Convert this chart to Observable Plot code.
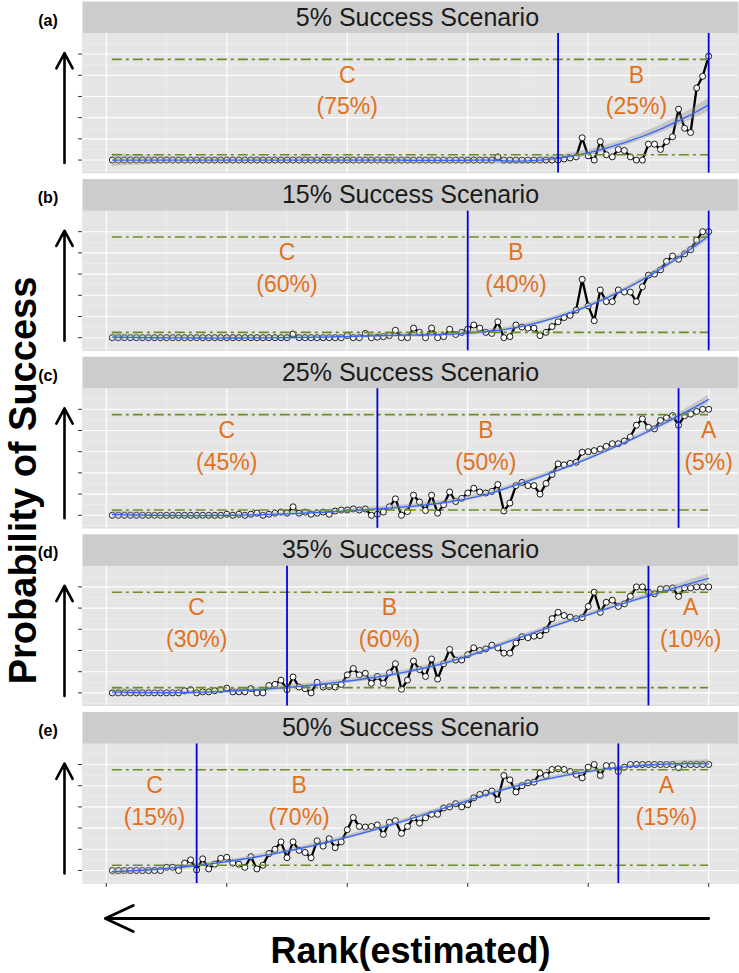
<!DOCTYPE html>
<html>
<head>
<meta charset="utf-8">
<script src="https://cdn.jsdelivr.net/npm/d3@7"></script>
<script src="https://cdn.jsdelivr.net/npm/@observablehq/plot@0.6"></script>
<style>
html, body { margin: 0; padding: 0; background: #ffffff; }
#chart svg { display: block; }
</style>
</head>
<body>
<div id="chart"></div>
<script>
// ---------------- data ----------------
const scenarios = ["\u20075% Success Scenario", "15% Success Scenario", "25% Success Scenario", "35% Success Scenario", "50% Success Scenario"];
const tags = ["(a)", "(b)", "(c)", "(d)", "(e)"];
const ranks = d3.range(1, 101);

const prob05 = [
  0,0,0,0,0,0,0,0,0,0,
  0,0,0,0,0,0,0,0,0,0,
  0,0,0,0,0,0,0,0,0,0,
  0,0,0,0,0,0,0,0,0,0,
  0,0,0,0,0,0,0,0,0,0,
  0,0,0,0,0,0,0,0,0,0,
  0,0,0,0,0.03,0,0,0,0,0,
  0,0,0,0,0,0.01,0.02,0.03,0.21,0.04,
  0,0.175,0.05,0.03,0.10,0.09,0.03,0,0,0.15,
  0.15,0.10,0.175,0.22,0.48,0.30,0.26,0.68,0.79,0.98
];
const prob15 = [
  0,0,0,0,0,0,0,0,0,0,
  0,0,0,0,0,0,0,0,0,0,
  0,0,0,0,0,0,0,0,0,0,
  0.035,0,0,0,0,0,0,0,0,0.02,
  0,0,0.04,0,0.005,0.01,0.02,0.07,0,0,
  0.09,0.05,0,0.09,0,0.01,0.08,0.03,0.05,0.08,
  0.12,0.09,0.05,0.04,0.15,0,0.01,0.12,0.10,0.09,
  0.09,0.02,0.05,0.105,0.15,0.19,0.21,0.26,0.55,0.30,
  0.16,0.45,0.34,0.34,0.45,0.43,0.43,0.34,0.48,0.59,
  0.60,0.64,0.72,0.77,0.74,0.79,0.83,0.92,1.0,1.0
];
const prob25 = [
  0,0,0,0,0,0,0,0,0,0,
  0,0,0,0,0,0,0,0,0,0.01,
  0,0.01,0,0.01,0.02,0,0.01,0.02,0.03,0.02,
  0.08,0.02,0.03,0.01,0.02,0.03,0.01,0.04,0.05,0.05,
  0.06,0.05,0.06,0,0.01,0.03,0.08,0.155,0,0.035,
  0.19,0.125,0.045,0.19,0.02,0.10,0.22,0.13,0.16,0.21,
  0.255,0.22,0.21,0.225,0.29,0.04,0.115,0.28,0.31,0.28,
  0.28,0.20,0.30,0.385,0.485,0.475,0.49,0.50,0.595,0.60,
  0.61,0.625,0.65,0.675,0.675,0.70,0.74,0.85,0.91,0.83,
  0.815,0.895,0.92,0.94,0.85,0.94,0.955,0.98,1.0,1.0
];
const prob35 = [
  0,0,0,0,0,0,0,0,0,0,
  0,0,0.02,0.03,0,0.01,0.01,0.02,0.03,0.045,
  0.01,0.01,0.01,0.04,0,0,0.07,0.08,0.12,0.03,
  0.15,0.055,0.04,0,0.10,0.055,0.06,0.055,0.08,0.17,
  0.23,0.17,0.185,0.09,0.155,0.09,0.19,0.275,0.035,0.12,
  0.30,0.22,0.155,0.32,0.13,0.275,0.41,0.31,0.31,0.36,
  0.425,0.40,0.415,0.45,0.425,0.375,0.375,0.47,0.53,0.52,
  0.535,0.54,0.595,0.70,0.76,0.73,0.715,0.70,0.71,0.815,
  0.95,0.76,0.855,0.875,0.815,0.84,0.91,1.0,1.0,0.95,
  0.935,0.98,0.985,0.99,0.91,0.99,0.99,1.0,1.0,1.0
];
const prob50 = [
  0,0,0,0,0,0,0,0,0,0.03,
  0.03,0,0.07,0.10,0.005,0.11,0.015,0.06,0.115,0.125,
  0.07,0.06,0.03,0.13,0.015,0.05,0.16,0.20,0.27,0.12,
  0.27,0.19,0.17,0.12,0.28,0.23,0.30,0.215,0.27,0.385,
  0.50,0.415,0.41,0.415,0.43,0.34,0.455,0.47,0.35,0.415,
  0.497,0.447,0.497,0.53,0.53,0.59,0.60,0.63,0.60,0.62,
  0.685,0.717,0.73,0.75,0.667,0.896,0.855,0.74,0.80,0.827,
  0.833,0.918,0.896,0.953,0.96,0.953,0.934,0.906,0.874,0.975,
  1.0,0.896,0.99,0.99,0.934,0.975,1.0,1.0,1.0,1.0,
  1.0,1.0,1.0,1.0,0.97,1.0,1.0,1.0,1.0,1.0
];
const series = [prob05, prob15, prob25, prob35, prob50];

// zone boundaries (vertical lines) per scenario
const boundaries = [[75, 100], [60, 100], [45, 95], [30, 90], [15, 85]];
// zone annotations per scenario: letter, share, rank position
const zoneLetters = [["C", "B"], ["C", "B"], ["C", "B", "A"], ["C", "B", "A"], ["C", "B", "A"]];
const zoneShares = [["(75%)", "(25%)"], ["(60%)", "(40%)"], ["(45%)", "(50%)", "(5%)"], ["(30%)", "(60%)", "(10%)"], ["(15%)", "(70%)", "(15%)"]];
const zoneRank = [[40, 88], [30, 68], [20, 63, 100], [15, 47, 97], [8, 32, 93]];
const letterLevel = 0.8, shareLevel = 0.5;

const thresholds = [0.05, 0.95];
const xMajor = [0, 20, 40, 60, 80, 100];
const xMinor = [10, 30, 50, 70, 90];
const yMajor = [0, 0.2, 0.4, 0.6, 0.8, 1];
const yMinor = [-0.1, 0.1, 0.3, 0.5, 0.7, 0.9, 1.1];
const yTitle = "Probability of Success";
const xTitle = "Rank(estimated)";

// ---------------- loess smoother (degree 2, span 0.75, with 95% band) ----------------
function invert3(m) {
  const [a, b, c] = m[0], [d, e, f] = m[1], [g, h, i] = m[2];
  const A = e * i - f * h, B = -(d * i - f * g), C = d * h - e * g;
  const det = a * A + b * B + c * C;
  return [
    [A / det, -(b * i - c * h) / det, (b * f - c * e) / det],
    [B / det, (a * i - c * g) / det, -(a * f - c * d) / det],
    [C / det, -(a * h - b * g) / det, (a * e - b * d) / det]
  ];
}
function loessWeights(xs, x0, span) {
  const n = xs.length, q = Math.floor(n * span);
  const d = xs.map(x => Math.abs(x - x0));
  const h = d.slice().sort((u, v) => u - v)[q - 1];
  const w = d.map(v => (v < h ? (1 - (v / h) ** 3) ** 3 : 0));
  const s = [[0, 0, 0], [0, 0, 0], [0, 0, 0]];
  xs.forEach((x, k) => {
    const t = (x - x0) / h, v = [1, t, t * t];
    for (let a = 0; a < 3; a++) for (let b = 0; b < 3; b++) s[a][b] += w[k] * v[a] * v[b];
  });
  const inv = invert3(s);
  return xs.map((x, k) => {
    const t = (x - x0) / h;
    return w[k] * (inv[0][0] + inv[0][1] * t + inv[0][2] * t * t);
  });
}
function loessBand(xs, ys, grid, span = 0.75) {
  const n = xs.length;
  const L = xs.map(x0 => loessWeights(xs, x0, span));
  const fitted = L.map(l => d3.sum(l, (li, k) => li * ys[k]));
  const trL = d3.sum(L, (l, k) => l[k]);
  const sumL2 = d3.sum(L, l => d3.sum(l, li => li * li));
  const delta1 = n - 2 * trL + sumL2;
  const rss = d3.sum(ys, (y, k) => (y - fitted[k]) ** 2);
  const sigma = Math.sqrt(rss / delta1);
  return grid.map(x0 => {
    const l = loessWeights(xs, x0, span);
    const fit = d3.sum(l, (li, k) => li * ys[k]);
    const se = sigma * Math.sqrt(d3.sum(l, li => li * li));
    return {x: x0, fit, lo: fit - 1.985 * se, hi: fit + 1.985 * se};
  });
}

// ---------------- tables ----------------
const points = scenarios.flatMap((s, k) => series[k].map((p, i) => ({scenario: s, rank: ranks[i], p})));
const rankExtent = d3.extent(ranks);
const grid = d3.range(80).map(j => rankExtent[0] + j * (rankExtent[1] - rankExtent[0]) / 79);
const smooth = scenarios.flatMap((s, k) => loessBand(ranks, series[k], grid).map(d => ({scenario: s, ...d})));
const vlines = scenarios.flatMap((s, k) => boundaries[k].map(x => ({scenario: s, x})));
const zones = scenarios.flatMap((s, k) => zoneLetters[k].map((letter, j) => ({scenario: s, x: zoneRank[k][j], letter, share: zoneShares[k][j]})));
const tagRows = scenarios.map((s, k) => ({scenario: s, tag: tags[k]}));

// ---------------- layout ----------------
const W = 739, H = 973;
const mL = 82, mR = 1, mT = 1, mB = 90;
const pad = 0.034;
const nF = scenarios.length;
const step = (H - mT - mB) / (nF - pad);
const bw = step * (1 - pad);
const pxPerUnit = 106, zeroLift = 13, stripH = 32;
const yLo = -zeroLift / pxPerUnit;
const yTop = yLo + bw / pxPerUnit;
const panelTop = yTop - stripH / pxPerUnit;
const xExpand = 0.05 * (rankExtent[1] - rankExtent[0]);
const xDomain = [rankExtent[0] - xExpand, rankExtent[1] + xExpand];

const font = "'Liberation Sans', Arial, Helvetica, sans-serif";
const orange = "#E2711D";
const green = "#6B8E23";
const vblue = "#0000E0";

const chart = Plot.plot({
  width: W,
  height: H,
  marginTop: mT,
  marginRight: mR,
  marginBottom: mB,
  marginLeft: mL,
  style: {fontFamily: font, background: "#ffffff", overflow: "visible"},
  x: {domain: xDomain, axis: null},
  y: {domain: [yLo, yTop], axis: null},
  fy: {domain: scenarios, axis: null, paddingInner: pad, paddingOuter: 0, round: false},
  marks: [
    // strip + panel background
    Plot.frame({fill: "#cccccc", stroke: "none"}),
    Plot.rect([0], {x1: xDomain[0], x2: xDomain[1], y1: yLo, y2: panelTop, fill: "#e5e5e5"}),
    // grid
    Plot.ruleY(yMinor, {stroke: "#f2f2f2", strokeWidth: 0.6}),
    Plot.ruleX(xMinor, {y1: yLo, y2: panelTop, stroke: "#f2f2f2", strokeWidth: 0.6}),
    Plot.ruleY(yMajor, {stroke: "#ffffff", strokeWidth: 1.1}),
    Plot.ruleX(xMajor, {y1: yLo, y2: panelTop, stroke: "#ffffff", strokeWidth: 1.1}),
    // observed series
    Plot.line(points, {x: "rank", y: "p", fy: "scenario", stroke: "#000000", strokeWidth: 2.3}),
    Plot.dot(points, {x: "rank", y: "p", fy: "scenario", r: 3, fill: "#ffffff", stroke: "#000000", strokeWidth: 0.9}),
    // loess smooth
    Plot.areaY(smooth, {x: "x", y1: "lo", y2: "hi", fy: "scenario", fill: "#999999", fillOpacity: 0.4}),
    Plot.line(smooth, {x: "x", y: "fit", fy: "scenario", stroke: "#3366FF", strokeWidth: 1.3}),
    // thresholds and zone boundaries
    Plot.ruleY(thresholds, {x1: rankExtent[0], x2: rankExtent[1], stroke: green, strokeWidth: 1.6, strokeDasharray: "10,4,3,4"}),
    Plot.ruleX(vlines, {x: "x", fy: "scenario", y1: yLo, y2: panelTop, stroke: vblue, strokeWidth: 1.8}),
    // zone annotations
    Plot.text(zones, {x: "x", y: letterLevel, fy: "scenario", text: "letter", fill: orange, fontSize: 23, lineAnchor: "middle"}),
    Plot.text(zones, {x: "x", y: shareLevel, fy: "scenario", text: "share", fill: orange, fontSize: 23, lineAnchor: "middle"}),
    // strip labels
    Plot.text(scenarios, {fy: d => d, text: d => d, frameAnchor: "top", dy: 16, fontSize: 25, fill: "#1a1a1a", lineAnchor: "middle", textAnchor: "middle"}),
    Plot.text(tagRows, {fy: "scenario", text: "tag", frameAnchor: "top-left", dx: -34.5, dy: 19, fontSize: 16, fontWeight: "bold", fill: "#000000", textAnchor: "middle", lineAnchor: "middle"}),
    // axes (ticks only)
    Plot.axisY(yMajor, {anchor: "left", tickSize: 4, tickFormat: () => "", label: null, stroke: "#333333"}),
    Plot.axisX(xMajor, {anchor: "bottom", tickSize: 4, tickFormat: () => "", label: null, stroke: "#333333"}),
    // up arrow beside each panel
    Plot.arrow([0], {x1: xDomain[0], x2: xDomain[0], y1: yMajor[0], y2: yMajor[yMajor.length - 1], dx: -18, insetStart: -3, insetEnd: -1, headLength: 10, headAngle: 56, stroke: "#000000", strokeWidth: 2.6}),
    // rank arrow and titles
    Plot.arrow([{scenario: scenarios[nF - 1]}], {fy: "scenario", x1: xMajor[xMajor.length - 1], x2: xMajor[0], y1: yLo, y2: yLo, dy: 35, insetEnd: -1, headLength: 16.5, headAngle: 50, stroke: "#000000", strokeWidth: 2.8}),
    Plot.text([{scenario: scenarios[nF - 1], t: xTitle}], {fy: "scenario", text: "t", frameAnchor: "bottom", dy: 68, fontSize: 36, fontWeight: "bold", fill: "#000000", lineAnchor: "middle", textAnchor: "middle"}),
    Plot.text([{scenario: scenarios[2], t: yTitle}], {fy: "scenario", text: "t", frameAnchor: "left", rotate: -90, dx: -59, dy: 38, fontSize: 38, fontWeight: "bold", fill: "#000000", lineAnchor: "middle", textAnchor: "middle"})
  ]
});
document.getElementById("chart").appendChild(chart);
</script>
</body>
</html>
